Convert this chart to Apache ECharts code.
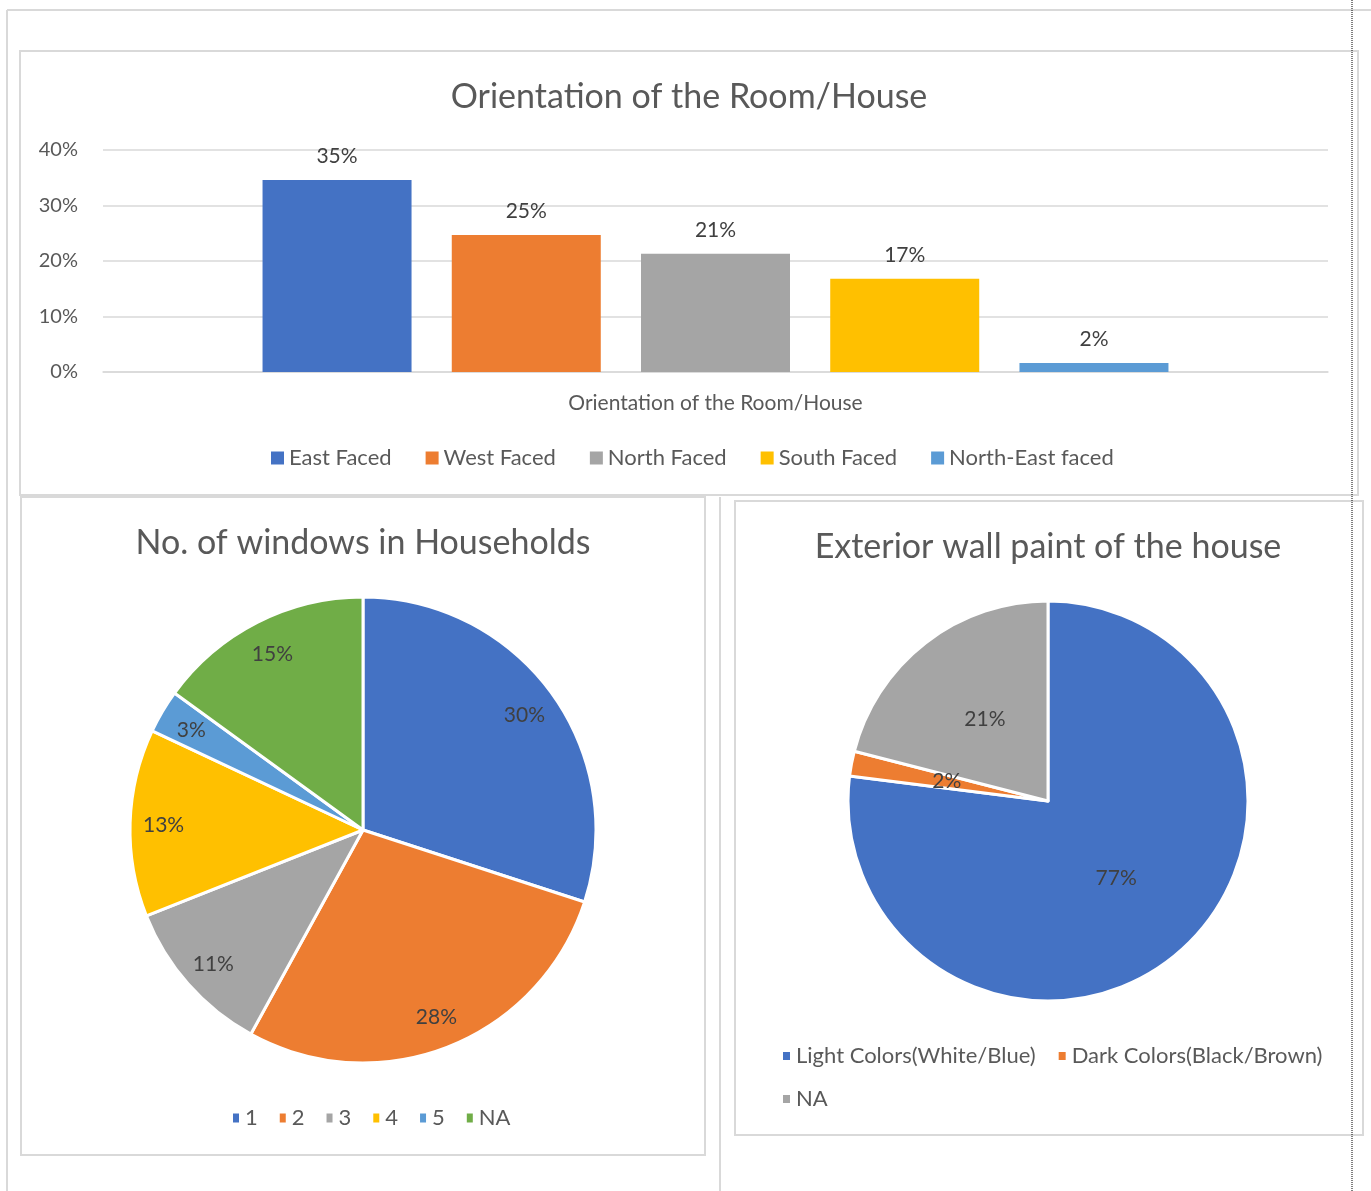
<!DOCTYPE html>
<html>
<head>
<meta charset="utf-8">
<script src="https://cdn.jsdelivr.net/npm/echarts@6/dist/echarts.min.js"></script>
<style>
  html, body { margin: 0; padding: 0; background: #fff; }
  #chart { width: 1371px; height: 1191px; }
</style>
</head>
<body>
<div id="chart"></div>
<script>
// bar chart data
const barCategories = ['Orientation of the Room/House'];
const orientationNames = ['East Faced', 'West Faced', 'North Faced', 'South Faced', 'North-East faced'];
const orientationValues = [34.6, 24.7, 21.3, 16.8, 1.6];
const yTicks = [0, 10, 20, 30, 40];

// windows pie
const windowNames = ['1', '2', '3', '4', '5', 'NA'];
const windowValues = [30, 28, 11, 13, 3, 15];

// wall paint pie
const paintNames = ['Light Colors(White/Blue)', 'Dark Colors(Black/Brown)', 'NA'];
const paintValues = [77, 2, 21];

const officeColors = ['#4472C4', '#ED7D31', '#A5A5A5', '#FFC000', '#5B9BD5', '#70AD47'];
const FONT = 'Lato';
const textGrey = '#595959';
const labelDark = '#404040';
const frame = '#d9d9d9';

const chart = echarts.init(document.getElementById('chart'), null, { renderer: 'canvas' });

const barSeries = orientationNames.map((name, i) => ({
  name: name,
  type: 'bar',
  data: [orientationValues[i]],
  barWidth: 149,
  barGap: '27%',
  itemStyle: { color: officeColors[i] },
  label: {
    show: true,
    position: 'top',
    distance: 13,
    color: labelDark,
    fontSize: 21,
    fontFamily: FONT,
    formatter: p => Math.round(p.value) + '%'
  }
}));

const pieBorder = { borderColor: '#fff', borderWidth: 3 };
const titleStyle = { fontSize: 34, fontWeight: 'normal', color: textGrey, fontFamily: FONT };
const legendText = { fontSize: 22, color: textGrey, fontFamily: FONT };

const option = {
  animation: false,
  textStyle: { fontFamily: FONT },
  title: [
    { text: 'Orientation of the Room/House', left: 684, top: 75, textAlign: 'center', textStyle: titleStyle },
    { text: 'No. of windows in Households', left: 358, top: 521, textAlign: 'center', textStyle: titleStyle },
    { text: 'Exterior wall paint of the house', left: 1043, top: 525, textAlign: 'center', textStyle: titleStyle }
  ],
  legend: [
    {
      data: orientationNames,
      left: 266, top: 442,
      itemWidth: 13, itemHeight: 13, itemGap: 34,
      icon: 'rect',
      textStyle: legendText
    },
    {
      data: windowNames.map((n, i) => ({ name: n, itemStyle: { color: officeColors[i] } })),
      left: 226, top: 1102,
      itemWidth: 8, itemHeight: 11, itemGap: 20,
      icon: 'rect',
      textStyle: legendText
    },
    {
      data: paintNames.map((n, i) => ({ name: n, itemStyle: { color: officeColors[i] } })),
      left: 776, top: 1040, width: 560,
      itemWidth: 9, itemHeight: 10, itemGap: 21,
      icon: 'rect',
      textStyle: legendText
    }
  ],
  grid: { left: 103, width: 1225, top: 150, height: 222 },
  xAxis: {
    type: 'category',
    data: barCategories,
    axisLine: { lineStyle: { color: frame, width: 1.5 } },
    axisTick: { show: false },
    axisLabel: { margin: 21, fontSize: 21, color: textGrey, fontFamily: FONT }
  },
  yAxis: {
    type: 'value',
    min: yTicks[0],
    max: yTicks[yTicks.length - 1],
    interval: 10,
    axisLine: { show: false },
    axisTick: { show: false },
    splitLine: { lineStyle: { color: frame, width: 1.5 } },
    axisLabel: { margin: 25, fontSize: 20, color: textGrey, fontFamily: FONT, formatter: '{value}%' }
  },
  series: [
    ...barSeries,
    {
      name: 'windows',
      type: 'pie',
      center: [363, 830],
      radius: [0, 233],
      startAngle: 90,
      clockwise: true,
      itemStyle: pieBorder,
      label: { show: false },
      labelLine: { show: false },
      data: windowNames.map((n, i) => ({ name: n, value: windowValues[i], itemStyle: { color: officeColors[i] } }))
    },
    {
      // label ring: puts percentages near the outer edge like the source
      name: 'windowsLabels',
      type: 'pie',
      silent: true,
      center: [363, 830],
      radius: [160, 233],
      startAngle: 90,
      clockwise: true,
      itemStyle: { color: 'rgba(0,0,0,0)', borderWidth: 0 },
      label: {
        show: true, position: 'inside', fontSize: 21, color: labelDark, fontFamily: FONT,
        offset: [0, 2],
        formatter: p => Math.round(p.percent) + '%'
      },
      labelLine: { show: false },
      data: windowNames.map((n, i) => ({ name: n, value: windowValues[i] }))
    },
    {
      name: 'paint',
      type: 'pie',
      center: [1048, 801],
      radius: [0, 200],
      startAngle: 90,
      clockwise: true,
      itemStyle: pieBorder,
      label: {
        show: true, position: 'inside', fontSize: 21, color: labelDark, fontFamily: FONT,
        formatter: p => Math.round(p.percent) + '%'
      },
      labelLine: { show: false },
      data: paintNames.map((n, i) => ({ name: n, value: paintValues[i], itemStyle: { color: officeColors[i] } }))
    }
  ],
  graphic: [
    // page frame
    { type: 'line', shape: { x1: 7, y1: 10, x2: 1371, y2: 10 }, style: { stroke: frame, lineWidth: 2 }, silent: true },
    { type: 'line', shape: { x1: 7, y1: 10, x2: 7, y2: 1191 }, style: { stroke: frame, lineWidth: 2 }, silent: true },
    { type: 'line', shape: { x1: 720, y1: 497, x2: 720, y2: 1191 }, style: { stroke: frame, lineWidth: 2 }, silent: true },
    // chart panels
    { type: 'rect', shape: { x: 20, y: 51, width: 1338, height: 444 }, style: { fill: null, stroke: frame, lineWidth: 2 }, silent: true },
    { type: 'rect', shape: { x: 21, y: 497, width: 684, height: 658 }, style: { fill: null, stroke: frame, lineWidth: 2 }, silent: true },
    { type: 'rect', shape: { x: 735, y: 501, width: 628, height: 634 }, style: { fill: null, stroke: frame, lineWidth: 2 }, silent: true },
    // page margin marker
    { type: 'line', shape: { x1: 1352, y1: 0, x2: 1352, y2: 1191 }, style: { stroke: '#000', lineWidth: 1, lineDash: [1, 1] }, silent: true, z: 100 }
  ]
};

chart.setOption(option);
</script>
</body>
</html>
